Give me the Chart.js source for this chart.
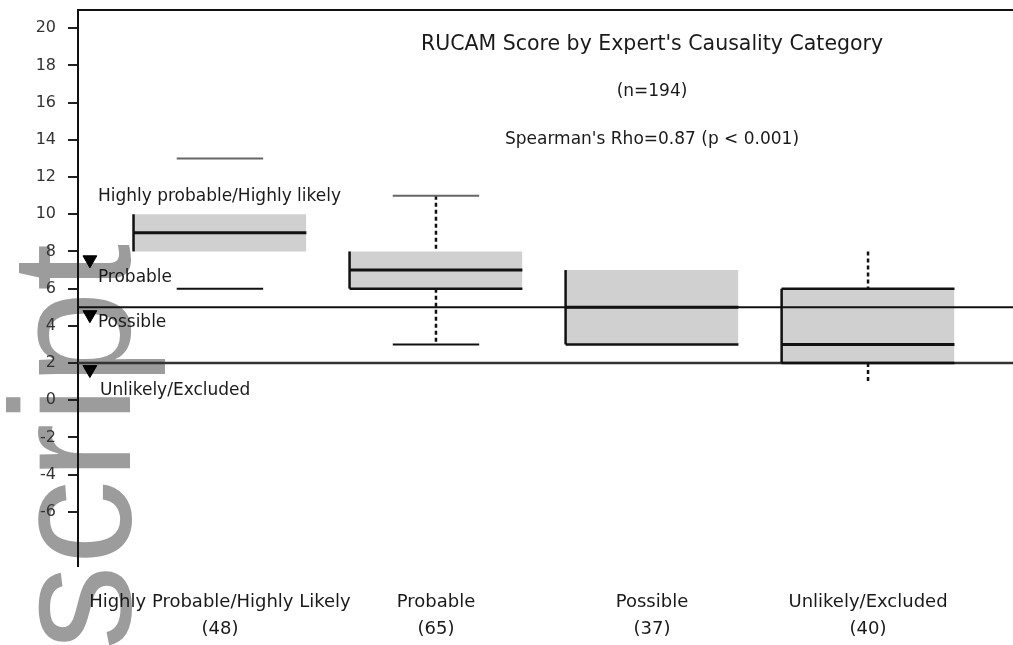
<!DOCTYPE html>
<html>
<head>
<meta charset="utf-8">
<script src="https://cdn.jsdelivr.net/npm/chart.js@4/dist/chart.umd.min.js"></script>
<style>
  html, body { margin: 0; padding: 0; background: #fff; overflow: hidden; }
  /* a little wider than the window: the marker dataset reserves ~9px on the right */
  #wrap { width: 1022px; height: 645px; position: relative; }
</style>
</head>
<body>
<div id="wrap"><canvas id="boxChart"></canvas></div>
<script>
// categories and counts
const categories = ['Highly Probable/Highly Likely', 'Probable', 'Possible', 'Unlikely/Excluded'];
const counts = [48, 65, 37, 40];

// box statistics (RUCAM score)
const q1 = [8, 6, 3, 2];
const medians = [9, 7, 5, 3];
const q3 = [10, 8, 7, 6];
const whiskerLow = [6, 3, null, 1];
const whiskerHigh = [13, 11, null, 8];
// what the picture shows of each box
const hasCaps = [true, true, false, false];
const hasStems = [false, true, false, true];
const darkLower = [false, true, true, true];
const darkUpper = [false, false, false, true];

// cutoff lines and markers
const cutoffs = [5, 2];
const markerY = [7.55, 4.6, 1.65];
const thresholdLabels = ['Highly probable/Highly likely', 'Probable', 'Possible', 'Unlikely/Excluded'];
const thresholdLabelY = [10.93, 6.62, 4.15, 0.5];

// titles inside the plot
const titleLines = ["RUCAM Score by Expert's Causality Category", '(n=194)', "Spearman's Rho=0.87 (p < 0.001)"];
const titleY = [19.1, 16.57, 13.99];

const yTicks = [-6, -4, -2, 0, 2, 4, 6, 8, 10, 12, 14, 16, 18, 20];

const X_MIN = 0.343, X_MAX = 4.671;
const Y_MIN = -8.91, Y_MAX = 20.98;
const HALF = 0.4, CAP = 0.2;

function seg(x1, y1, x2, y2, color, width, dash) {
  return {
    data: [{ x: x1, y: y1 }, { x: x2, y: y2 }],
    borderColor: color,
    borderWidth: width,
    borderDash: dash || [],
    borderCapStyle: 'butt',
    pointRadius: 0,
    fill: false,
    order: 0
  };
}

const datasets = [];

categories.forEach((c, i) => {
  const cx = i + 1;
  // box fill
  datasets.push({
    data: [{ x: cx - HALF, y: q3[i] }, { x: cx + HALF, y: q3[i] }],
    borderColor: 'rgba(0,0,0,0)',
    borderWidth: 1,
    backgroundColor: '#d0d0d0',
    fill: { value: q1[i] },
    pointRadius: 0,
    order: 2
  });
  datasets.push(seg(cx - HALF, q1[i], cx - HALF, q3[i], '#111', 2.5));
  datasets.push(seg(cx - HALF, medians[i], cx + HALF, medians[i], '#111', 3));
  if (darkLower[i]) datasets.push(seg(cx - HALF, q1[i], cx + HALF, q1[i], '#111', 2.5));
  if (darkUpper[i]) datasets.push(seg(cx - HALF, q3[i], cx + HALF, q3[i], '#111', 2.5));
  if (hasCaps[i]) {
    datasets.push(seg(cx - CAP, whiskerHigh[i], cx + CAP, whiskerHigh[i], '#666', 2));
    datasets.push(seg(cx - CAP, whiskerLow[i], cx + CAP, whiskerLow[i], '#111', 2));
  }
  if (hasStems[i]) {
    datasets.push(seg(cx, whiskerHigh[i], cx, q3[i], '#111', 2.5, [4, 3]));
    datasets.push(seg(cx, q1[i], cx, whiskerLow[i], '#111', 2.5, [4, 3]));
  }
});

cutoffs.forEach((v, i) => {
  datasets.push(seg(X_MIN, v, X_MAX, v, i === 0 ? '#111' : '#333', i === 0 ? 2 : 2.5));
});

// triangle markers
datasets.push({
  data: markerY.map(v => ({ x: 0.398, y: v })),
  showLine: false,
  pointStyle: 'triangle',
  rotation: 180,
  pointRadius: 8,
  pointBackgroundColor: '#000',
  pointBorderColor: '#000',
  order: 0
});

const watermark = {
  id: 'watermark',
  beforeDraw(chart) {
    const ctx = chart.ctx;
    ctx.save();
    ctx.translate(130, 650);
    ctx.rotate(-Math.PI / 2);
    ctx.font = '170px "Liberation Sans", Arial, sans-serif';
    ctx.fillStyle = '#9c9c9c';
    ctx.textBaseline = 'alphabetic';
    ctx.fillText('script', 0, 0);
    ctx.restore();
  }
};

const notes = {
  id: 'notes',
  afterDatasetsDraw(chart) {
    const { ctx, scales: { x, y } } = chart;
    ctx.save();
    ctx.fillStyle = '#1a1a1a';
    ctx.textBaseline = 'middle';
    ctx.textAlign = 'center';
    const fonts = ['20.5px "DejaVu Sans"', '17px "DejaVu Sans"', '17px "DejaVu Sans"'];
    titleLines.forEach((t, i) => {
      ctx.font = fonts[i];
      ctx.fillText(t, x.getPixelForValue(3), y.getPixelForValue(titleY[i]));
    });
    ctx.textAlign = 'left';
    ctx.font = '17px "DejaVu Sans"';
    thresholdLabels.forEach((t, i) => {
      ctx.fillText(t, x.getPixelForValue(i === 3 ? 0.445 : 0.435), y.getPixelForValue(thresholdLabelY[i]));
    });
    ctx.restore();
  }
};

function noPad(scale) {
  scale.paddingLeft = 0;
  scale.paddingRight = 0;
  scale.paddingTop = 0;
  scale.paddingBottom = 0;
}

new Chart(document.getElementById('boxChart'), {
  type: 'line',
  data: { datasets: datasets },
  plugins: [watermark, notes],
  options: {
    responsive: true,
    maintainAspectRatio: false,
    animation: false,
    layout: { padding: 0 },
    plugins: {
      legend: { display: false },
      tooltip: { enabled: false }
    },
    scales: {
      x: {
        type: 'linear',
        min: X_MIN,
        max: X_MAX,
        afterBuildTicks: scale => { scale.ticks = categories.map((c, i) => ({ value: i + 1 })); },
        afterFit: scale => { scale.height = 79; noPad(scale); },
        grid: { display: false, drawTicks: false },
        border: { display: false },
        ticks: {
          autoSkip: false,
          maxRotation: 0,
          padding: 23,
          color: '#1a1a1a',
          font: { family: 'DejaVu Sans', size: 18, lineHeight: 1.5 },
          callback: v => [categories[v - 1], '(' + counts[v - 1] + ')']
        }
      },
      x2: {
        type: 'linear',
        position: 'top',
        min: X_MIN,
        max: X_MAX,
        afterFit: scale => { scale.height = 10; noPad(scale); },
        grid: { display: false, drawTicks: false },
        border: { display: true, color: '#111', width: 2 },
        ticks: { display: false }
      },
      y: {
        min: Y_MIN,
        max: Y_MAX,
        afterBuildTicks: scale => { scale.ticks = yTicks.map(v => ({ value: v })); },
        afterFit: scale => { scale.width = 78; noPad(scale); },
        grid: { drawOnChartArea: false, drawTicks: true, tickLength: 10, color: '#222', lineWidth: 2 },
        border: { display: true, color: '#111', width: 2 },
        ticks: {
          padding: 12,
          color: '#333',
          font: { family: 'DejaVu Sans', size: 16 }
        }
      }
    }
  }
});
</script>
</body>
</html>
